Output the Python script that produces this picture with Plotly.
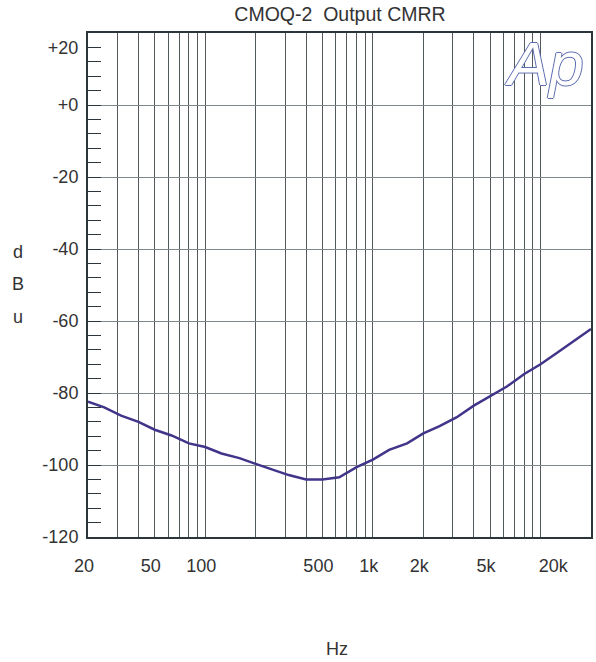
import plotly.graph_objects as go
import math

# ---- data ----
freq_hz = [20, 25, 31.5, 40, 50, 63, 80, 100, 125, 160, 200, 250, 315, 400, 500,
           630, 800, 1000, 1250, 1600, 2000, 2500, 3150, 4000, 5000, 6300, 8000,
           10000, 12500, 16000, 20000]
cmrr_dbu = [-82.4, -84.0, -86.3, -88.0, -90.2, -91.8, -94.0, -95.0, -96.8, -98.1,
            -99.7, -101.2, -102.8, -104.0, -104.0, -103.4, -100.6, -98.5, -95.8,
            -94.0, -91.2, -89.2, -86.8, -83.5, -80.8, -78.2, -74.7, -72.0, -68.9,
            -65.3, -62.2]

# tick labels (AP style: the outermost labels are pulled inside the frame)
x_label_pos = [20, 50, 100, 500, 1000, 2000, 5000, 12600]
x_label_text = ["20", "50", "100", "500", "1k", "2k", "5k", "20k"]
y_label_pos = [16, 0, -20, -40, -60, -80, -100, -120]
y_label_text = ["+20", "+0", "-20", "-40", "-60", "-80", "-100", "-120"]

x_grid = [m * 10 ** d for d in (1, 2, 3) for m in range(1, 10) if 20 < m * 10 ** d < 20000] + [10000]
y_grid = [-100, -80, -60, -40, -20, 0]

X_RANGE = [math.log10(20), math.log10(20000)]
Y_RANGE = [-120, 20]

FONT = "Liberation Sans, Arial, sans-serif"
TXT = "#333333"
FRAME = "#2c3539"
CURVE = "#41358a"

fig = go.Figure()
fig.add_trace(go.Scatter(x=freq_hz, y=cmrr_dbu, mode="lines",
                         line=dict(color=CURVE, width=2.5),
                         xaxis="x", yaxis="y", showlegend=False))
# invisible copy so the label-only overlay axes are instantiated
fig.add_trace(go.Scatter(x=freq_hz, y=cmrr_dbu, mode="lines", opacity=0,
                         xaxis="x2", yaxis="y2", showlegend=False, hoverinfo="skip"))

fig.update_layout(
    width=596, height=662,
    margin=dict(l=88, r=3, t=33, b=125),
    paper_bgcolor="white", plot_bgcolor="white",
    font=dict(family=FONT, size=18, color=TXT),
    title=dict(text="CMOQ-2  Output CMRR", x=(340 / 596), xanchor="center",
               y=1 - 14 / 662, yanchor="middle", yref="container",
               font=dict(family=FONT, size=19.5, color=TXT)),
    xaxis=dict(type="log", range=X_RANGE, tickmode="array", tickvals=x_grid,
               showticklabels=False, ticks="", showgrid=True, gridcolor="#525a5e",
               gridwidth=1, showline=True, mirror=True, linecolor=FRAME, linewidth=1.5,
               zeroline=False),
    xaxis2=dict(type="log", range=X_RANGE, overlaying="x", anchor="y", side="bottom",
                tickmode="array", tickvals=x_label_pos, ticktext=x_label_text,
                ticks="outside", ticklen=12, tickcolor="rgba(0,0,0,0)",
                ticklabelshift=-4,
                showgrid=False, showline=False, zeroline=False,
                tickfont=dict(family=FONT, size=18, color=TXT)),
    yaxis=dict(range=Y_RANGE, tickmode="array", tickvals=y_grid, showticklabels=False,
               ticks="inside", ticklen=13, tickcolor=FRAME,
               showgrid=True, gridcolor="#80888c", gridwidth=1,
               minor=dict(tick0=0, dtick=4, ticks="inside", ticklen=13,
                          tickcolor=FRAME, tickwidth=1, showgrid=False),
               showline=True, mirror=True, linecolor=FRAME, linewidth=2,
               zeroline=False),
    yaxis2=dict(range=Y_RANGE, overlaying="y", anchor="x", side="left",
                tickmode="array", tickvals=y_label_pos, ticktext=y_label_text,
                ticks="outside", ticklen=5, tickcolor="rgba(0,0,0,0)",
                showgrid=False, showline=False, zeroline=False,
                tickfont=dict(family=FONT, size=18, color=TXT)),
)

# axis titles
fig.add_annotation(text="Hz", xref="paper", yref="paper", x=(338 - 88) / 505,
                   y=(537 - 649) / 504, xanchor="center", yanchor="middle",
                   showarrow=False, font=dict(family=FONT, size=18, color=TXT))
for letter, ypix in zip(["d", "B", "u"], [252, 284, 317]):
    fig.add_annotation(text=letter, xref="paper", yref="paper", x=(18 - 88) / 505,
                       y=(537 - ypix) / 504, xanchor="center", yanchor="middle",
                       showarrow=False, font=dict(family=FONT, size=18, color=TXT))

# Ap logo (outlined text)
OUT = "#5b6bb0"
fig.add_annotation(text="Ap", xref="paper", yref="paper", x=(546 - 88) / 505,
                   y=(537 - 63) / 504, xanchor="center", yanchor="middle",
                   showarrow=False,
                   font=dict(family=FONT, size=62, color="white", style="italic",
                             shadow=f"1px 0 0 {OUT}, -1px 0 0 {OUT}, 0 1px 0 {OUT}, 0 -1px 0 {OUT}"))

fig.write_html("out.html", config={"displayModeBar": False},
               post_script="document.body.style.margin='0';document.body.style.padding='0';")
